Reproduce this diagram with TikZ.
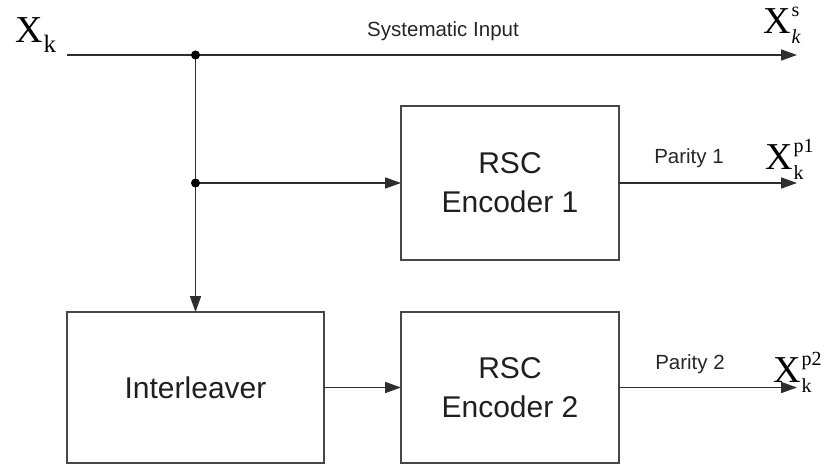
\documentclass[tikz,border=0pt]{standalone}
\usepackage{fontspec}
\setmainfont{Liberation Serif}
\newfontfamily\arialf{Liberation Sans}
\usetikzlibrary{arrows.meta}
\newcommand{\scr}{\fontsize{20}{20}\selectfont}
\newcommand{\sym}[2]{X\kern1pt\rlap{\raisebox{17pt}{\scr #1}}\raisebox{-10pt}{\scr #2}}
\begin{document}
\begin{tikzpicture}[x=1pt,y=-1pt,
  blk/.style={draw=black!72,line width=1.6pt,inner sep=0pt,outer sep=0pt,
    font=\arialf\fontsize{30}{39}\selectfont,text=black!88,align=center},
  wire/.style={draw=black!82,line width=1.7pt},
  arr/.style={wire,-{Triangle[length=16pt,width=11pt]}},
  lbl/.style={font=\arialf\fontsize{20.5}{24}\selectfont,text=black!85,anchor=base,inner sep=0pt},
  sym/.style={font=\fontsize{38}{40}\selectfont,anchor=base west,inner sep=0pt},
  dot/.style={circle,fill=black,inner sep=0pt,minimum size=9pt}]
\useasboundingbox (0,0) rectangle (827,465);
% blocks
\node[blk,minimum width=218pt,minimum height=154pt] (enc1) at (510,183) {RSC\\Encoder 1};
\node[blk,minimum width=218pt,minimum height=151pt] (enc2) at (510,387.5) {RSC\\Encoder 2};
\node[blk,minimum width=257pt,minimum height=151pt] (inter) at (195.5,387.5) {Interleaver};
% coordinates
\coordinate (in) at (67,55);
\coordinate (j1) at (195.5,55);
\coordinate (j2) at (195.5,183);
\coordinate (o0) at (797,55);
\coordinate (o1) at (797,183);
\coordinate (o2) at (797,387.5);
% connectors
\draw[arr] (in) -- (o0);
\draw[arr] (j1) -- (inter.north);
\draw[arr] (j2) -- (enc1.west);
\draw[arr] (inter.east) -- (enc2.west);
\draw[arr] (enc1.east) -- (o1);
\draw[arr] (enc2.east) -- (o2);
\node[dot] (d1) at (j1) {};
\node[dot] (d2) at (j2) {};
% labels
\node[lbl] (sys) at (443,37) {Systematic Input};
\node[lbl] (p1) at (689,164) {Parity 1};
\node[lbl] (p2) at (690,369) {Parity 2};
\node[sym] (xk) at (15,43) {X\kern1pt\raisebox{-10pt}{\fontsize{25}{25}\selectfont k}};
\node[sym] (xs) at (763,34) {\sym{s}{\textit{k}}};
\node[sym] (xp1) at (765,170) {\sym{p1}{k}};
\node[sym] (xp2) at (773,382) {\sym{p2}{k}};
\end{tikzpicture}
\end{document}
